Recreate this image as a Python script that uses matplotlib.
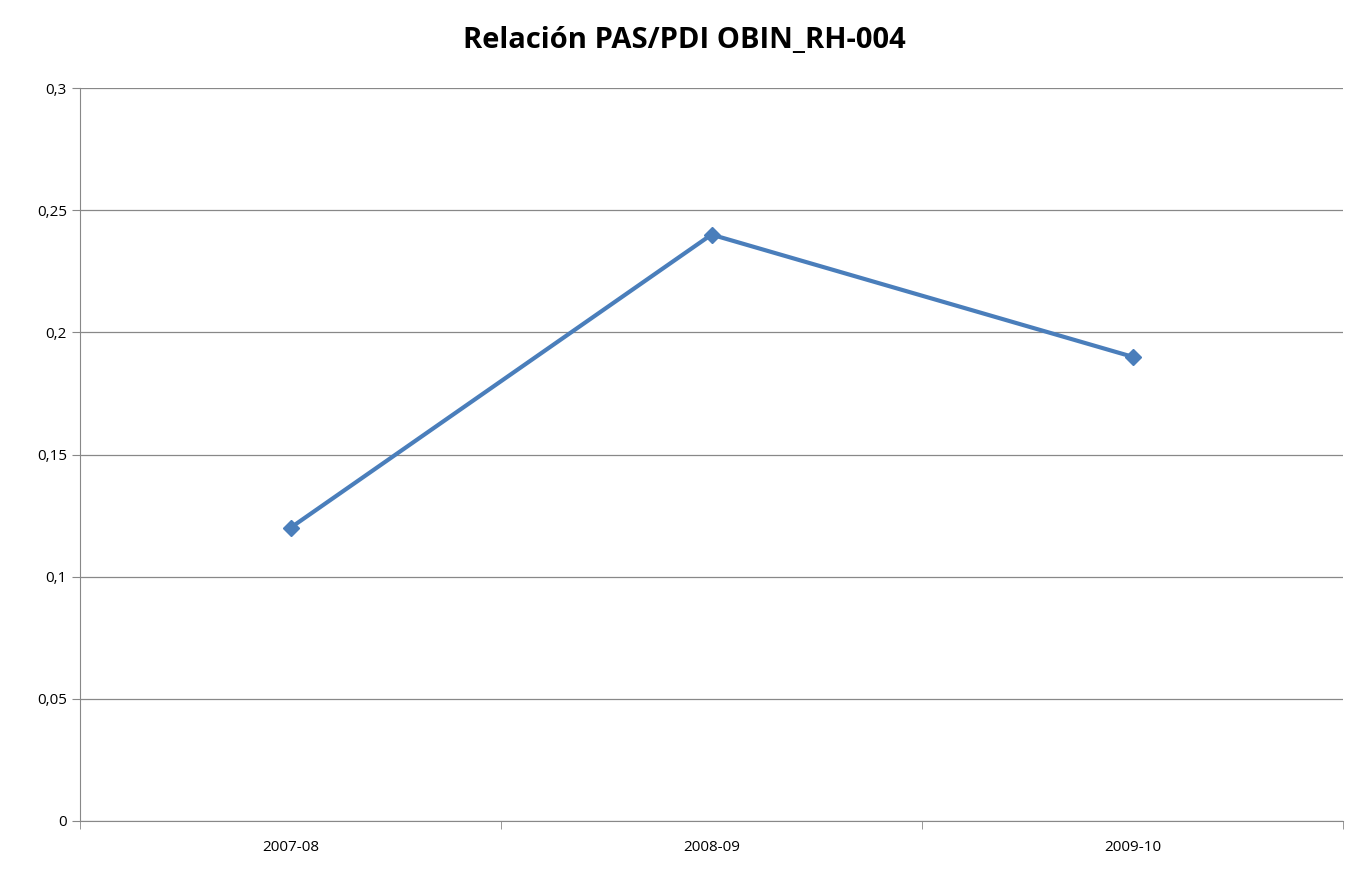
import matplotlib
matplotlib.use("Agg")
import matplotlib.pyplot as plt

categories = ["2007-08", "2008-09", "2009-10"]
values = [0.12, 0.24, 0.19]
yticks = [0, 0.05, 0.1, 0.15, 0.2, 0.25, 0.3]
ytick_labels = ["0", "0,05", "0,1", "0,15", "0,2", "0,25", "0,3"]

plt.rcParams['font.family'] = ['Open Sans', 'DejaVu Sans']
fig = plt.figure(figsize=(13.68, 8.91), dpi=100)
ax = fig.add_axes([80/1368, 70/891, 1263/1368, 733/891])
x = list(range(len(categories)))
ax.plot(x, values, color="#4A7EBB", lw=3, marker="D", ms=8, zorder=3)
ax.set_xlim(-0.5, len(categories) - 0.5)
ax.set_ylim(0, 0.3)
ax.set_yticks(yticks)
ax.set_yticklabels(ytick_labels, fontsize=11)
ax.yaxis.grid(True, color="#888888", lw=0.9)
ax.set_xticks(x)
ax.set_xticklabels(categories, fontsize=11)
ax.tick_params(axis='x', length=0, pad=14)
ax.set_xticks([i - 0.5 for i in range(len(categories) + 1)], minor=True)
ax.tick_params(axis='x', which='minor', length=6, color="#888888")
ax.tick_params(axis='y', length=6, color="#888888", direction='out')
for s in ["top", "right"]:
    ax.spines[s].set_visible(False)
for s in ["left", "bottom"]:
    ax.spines[s].set_color("#888888")
fig.text(0.5, 0.955, "Relación PAS/PDI OBIN_RH-004", ha="center", va="center",
         fontsize=21, fontweight="bold")
fig.savefig("out.png", dpi=100)
